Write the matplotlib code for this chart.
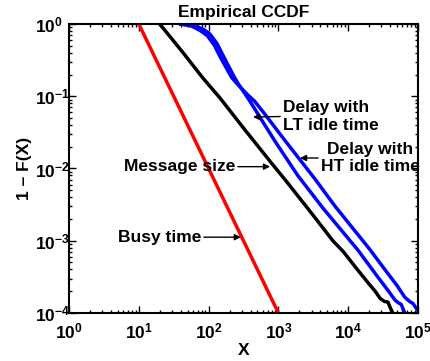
import numpy as np
import matplotlib
matplotlib.use("Agg")
import matplotlib.pyplot as plt
from matplotlib.ticker import LogLocator, FuncFormatter, NullFormatter

# ======================== data (log10 values)
busy_lx = [1.0, 2.0, 3.0]
busy_ly = [0.0, -2.0, -4.0]

msg_lx = [1.30, 1.62, 1.92, 2.16, 2.50, 2.88, 3.10, 3.50, 3.78, 3.93, 4.10, 4.30, 4.38, 4.46, 4.52, 4.57, 4.60, 4.64]
msg_ly = [0.00, -0.38, -0.75, -1.02, -1.44, -1.90, -2.16, -2.65, -3.00, -3.15, -3.36, -3.60, -3.69, -3.80, -3.84, -3.85, -3.92, -4.00]

lt_lx = [1.60, 1.78, 1.92, 2.02, 2.12, 2.22, 2.36, 2.42, 2.58, 2.95, 3.28, 3.64, 4.14, 4.40, 4.58, 4.67, 4.72, 4.76, 4.81]
lt_ly = [0.00, -0.02, -0.07, -0.14, -0.27, -0.46, -0.72, -0.82, -1.05, -1.62, -2.10, -2.55, -3.13, -3.47, -3.70, -3.82, -3.86, -3.88, -4.00]

ht_lx = [1.60, 1.76, 1.88, 1.98, 2.08, 2.18, 2.33, 2.42, 2.55, 2.66, 2.80, 3.10, 3.52, 3.81, 4.31, 4.55, 4.70, 4.81, 4.88, 4.93, 5.00]
ht_ly = [0.00, -0.03, -0.09, -0.16, -0.29, -0.48, -0.74, -0.84, -0.97, -1.07, -1.24, -1.62, -2.14, -2.52, -3.12, -3.43, -3.62, -3.78, -3.84, -3.87, -3.97]

# ======================== fonts
plt.rcParams['font.family'] = ['Liberation Sans', 'DejaVu Sans']
plt.rcParams['font.weight'] = 'bold'
plt.rcParams['mathtext.fontset'] = 'custom'
plt.rcParams['mathtext.rm'] = 'Liberation Sans:bold'
plt.rcParams['mathtext.bf'] = 'Liberation Sans:bold'
plt.rcParams['mathtext.default'] = 'bf'

fig = plt.figure(figsize=(4.3, 3.61), dpi=100)
ax = fig.add_axes([0.1605, 0.133, 0.8115, 0.8005])

ax.plot(10 ** np.array(busy_lx), 10 ** np.array(busy_ly), color="#ff0000", lw=2.5)
ax.plot(10 ** np.array(msg_lx), 10 ** np.array(msg_ly), color="black", lw=2.5)
ax.plot(10 ** np.array(lt_lx), 10 ** np.array(lt_ly), color="#0000ff", lw=2.5)
ax.plot(10 ** np.array(ht_lx), 10 ** np.array(ht_ly), color="#0000ff", lw=2.5)

ax.set_xscale("log")
ax.set_yscale("log")
ax.set_xlim(1, 1e5)
ax.set_ylim(1e-4, 1)

fmt = FuncFormatter(lambda v, p: r"$10^{%d}$" % int(round(np.log10(v))))
ax.xaxis.set_major_locator(LogLocator(base=10, numticks=10))
ax.yaxis.set_major_locator(LogLocator(base=10, numticks=10))
ax.xaxis.set_minor_locator(LogLocator(base=10, subs=np.arange(2, 10), numticks=20))
ax.yaxis.set_minor_locator(LogLocator(base=10, subs=np.arange(2, 10), numticks=20))
ax.xaxis.set_major_formatter(fmt)
ax.yaxis.set_major_formatter(fmt)
ax.xaxis.set_minor_formatter(NullFormatter())
ax.yaxis.set_minor_formatter(NullFormatter())

ax.tick_params(which="both", direction="in", top=True, right=True, labelsize=12.5, width=1)
ax.tick_params(which="major", length=5)
ax.tick_params(which="minor", length=2.5)
ax.tick_params(axis="x", pad=6)
ax.tick_params(axis="y", pad=24.5)
plt.setp(ax.get_yticklabels(), ha="left")
for s in ax.spines.values():
    s.set_linewidth(1.5)

ax.set_title("Empirical CCDF", fontsize=12.5, fontweight="bold", pad=5)
ax.set_xlabel("X", fontsize=12.5, fontweight="bold", labelpad=1)
ax.set_ylabel("1 \u2013 F(X)", fontsize=12.5, fontweight="bold", labelpad=2)

arrow = dict(arrowstyle="-|>", color="black", lw=1, mutation_scale=9, shrinkA=0, shrinkB=0)

ax.annotate("Message size", xy=(760, 0.0106), xytext=(240, 0.0106), fontsize=12.5,
            fontweight="bold", ha="right", va="center",
            arrowprops=dict(arrow, relpos=(1, 0.5)))
ax.annotate("Busy time", xy=(290, 1.12e-3), xytext=(78, 1.12e-3), fontsize=12.5,
            fontweight="bold", ha="right", va="center",
            arrowprops=dict(arrow, relpos=(1, 0.5)))
ax.annotate("Delay with\nLT idle time", xy=(433, 0.0516), xytext=(1164, 0.0525), fontsize=12.5,
            fontweight="bold", ha="left", va="center", multialignment="left",
            arrowprops=dict(arrow, relpos=(0, 0.5)))
ax.annotate("Delay with\nHT idle time", xy=(2040, 0.01397), xytext=(4070, 0.01397), fontsize=12.5,
            fontweight="bold", ha="left", va="center", multialignment="center",
            arrowprops=dict(arrow, relpos=(0, 0.5)))

plt.savefig("out.png", dpi=100)
